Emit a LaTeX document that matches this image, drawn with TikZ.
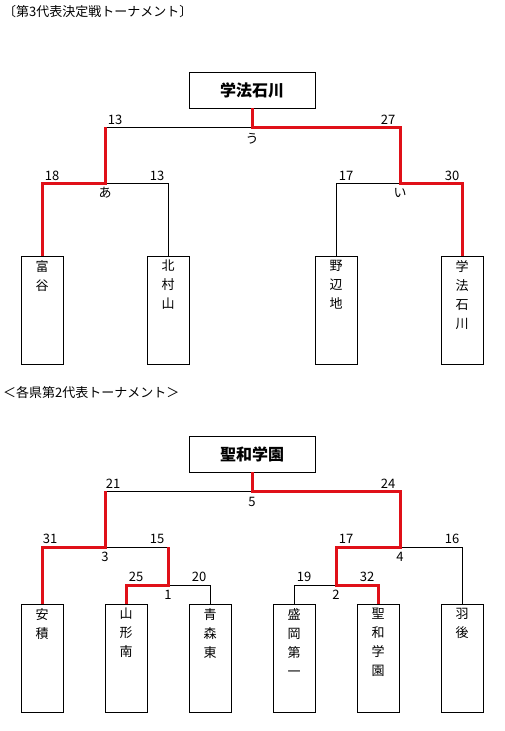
\documentclass[tikz,border=0pt]{standalone}
\usepackage{fontspec}
\setmainfont{Noto Sans CJK JP}
\definecolor{winred}{RGB}{224,16,24}
\begin{document}
\begin{tikzpicture}[x=1pt,y=-1pt,
  every node/.style={inner sep=0pt, font=\fontsize{13}{15}\selectfont},
  champ/.style={draw, line width=0.8pt, minimum width=126pt, minimum height=36pt, font=\fontsize{16}{18}\selectfont\bfseries},
  team/.style={draw, line width=0.8pt, minimum width=42pt, minimum height=108pt},
  vtext/.style={anchor=north, align=center, font=\fontsize{13}{19}\selectfont},
  title/.style={anchor=west},
  num/.style={},
  bl/.style={line width=0.8pt},
  win/.style={line width=3pt, draw=winred, line join=miter}
]
\useasboundingbox (0,0) rectangle (505,731);

% ---------- titles
\node[title] (ttl1) at (3,12) {〔第3代表決定戦トーナメント〕};
\node[title] (ttl2) at (3,393) {＜各県第2代表トーナメント＞};

% ---------- top tournament
\node[champ] (c1) at (252,90) {学法石川};
\node[team] (t1) at (42,310) {};
\node[team] (t2) at (168,310) {};
\node[team] (t3) at (336,310) {};
\node[team] (t4) at (462,310) {};
\node[vtext] (t1l) at (42,260) {富\\谷};
\node[vtext] (t2l) at (168,260) {北\\村\\山};
\node[vtext] (t3l) at (336,260) {野\\辺\\地};
\node[vtext] (t4l) at (462,260) {学\\法\\石\\川};

\coordinate (uM) at (252,127);
\coordinate (uL) at (105,127);
\coordinate (uR) at (400,127);
\coordinate (aL) at (42,183);
\coordinate (aM) at (105,183);
\coordinate (aR) at (168,183);
\coordinate (iL) at (336,183);
\coordinate (iM) at (400,183);
\coordinate (iR) at (462,183);

\draw[bl] (c1.south) -- (uM);
\draw[bl] (uL) -- (uR);
\draw[bl] (uL) -- (aM);
\draw[bl] (uR) -- (iM);
\draw[bl] (aL) -- (aR);
\draw[bl] (iL) -- (iR);
\draw[bl] (aL) -- (t1.north);
\draw[bl] (aR) -- (t2.north);
\draw[bl] (iL) -- (t3.north);
\draw[bl] (iR) -- (t4.north);

\draw[win] (c1.south) -- (uM) -- (uR) -- (iM) -- (iR) -- (t4.north);
\draw[win] (uL) -- (aM) -- (aL) -- (t1.north);

\node[num] (n1) at (115,119.5) {13};
\node[num] (n2) at (388,119.5) {27};
\node[num] (n3) at (252,139) {う};
\node[num] (n4) at (52,175.5) {18};
\node[num] (n5) at (157,175.5) {13};
\node[num] (n6) at (105,193) {あ};
\node[num] (n7) at (346,175.5) {17};
\node[num] (n8) at (452,175.5) {30};
\node[num] (n9) at (400,193) {い};

% ---------- bottom tournament
\node[champ] (c2) at (252,454) {聖和学園};
\node[team] (b1) at (42,658) {};
\node[team] (b2) at (126,658) {};
\node[team] (b3) at (210,658) {};
\node[team] (b4) at (294,658) {};
\node[team] (b5) at (378,658) {};
\node[team] (b6) at (462,658) {};
\node[vtext] (b1l) at (42,608) {安\\積};
\node[vtext] (b2l) at (126,608) {山\\形\\南};
\node[vtext] (b3l) at (210,608) {青\\森\\東};
\node[vtext] (b4l) at (294,608) {盛\\岡\\第\\一};
\node[vtext] (b5l) at (378,608) {聖\\和\\学\\園};
\node[vtext] (b6l) at (462,608) {羽\\後};

\coordinate (m5) at (252,491);
\coordinate (m5L) at (105,491);
\coordinate (m5R) at (400,491);
\coordinate (m3L) at (42,547);
\coordinate (m3M) at (105,547);
\coordinate (m3R) at (168,547);
\coordinate (m4L) at (336,547);
\coordinate (m4M) at (400,547);
\coordinate (m4R) at (462,547);
\coordinate (m1L) at (126,585);
\coordinate (m1M) at (168,585);
\coordinate (m1R) at (210,585);
\coordinate (m2L) at (294,585);
\coordinate (m2M) at (336,585);
\coordinate (m2R) at (378,585);

\draw[bl] (c2.south) -- (m5);
\draw[bl] (m5L) -- (m5R);
\draw[bl] (m5L) -- (m3M);
\draw[bl] (m5R) -- (m4M);
\draw[bl] (m3L) -- (m3R);
\draw[bl] (m3L) -- (b1.north);
\draw[bl] (m3R) -- (m1M);
\draw[bl] (m1L) -- (m1R);
\draw[bl] (m1L) -- (b2.north);
\draw[bl] (m1R) -- (b3.north);
\draw[bl] (m4L) -- (m4R);
\draw[bl] (m4L) -- (m2M);
\draw[bl] (m4R) -- (b6.north);
\draw[bl] (m2L) -- (m2R);
\draw[bl] (m2L) -- (b4.north);
\draw[bl] (m2R) -- (b5.north);

\draw[win] (c2.south) -- (m5) -- (m5R) -- (m4M) -- (m4L) -- (m2M) -- (m2R) -- (b5.north);
\draw[win] (m5L) -- (m3M) -- (m3L) -- (b1.north);
\draw[win] (m3R) -- (m1M) -- (m1L) -- (b2.north);

\node[num] (s1) at (113,483.5) {21};
\node[num] (s2) at (388,483.5) {24};
\node[num] (s3) at (252,502) {5};
\node[num] (s4) at (50,539) {31};
\node[num] (s5) at (157,539) {15};
\node[num] (s6) at (105,557) {3};
\node[num] (s7) at (346,539) {17};
\node[num] (s8) at (452,539) {16};
\node[num] (s9) at (400,557) {4};
\node[num] (s10) at (136,577) {25};
\node[num] (s11) at (199,577) {20};
\node[num] (s12) at (168,595) {1};
\node[num] (s13) at (304,577) {19};
\node[num] (s14) at (367,577) {32};
\node[num] (s15) at (336,595) {2};
\end{tikzpicture}
\end{document}
